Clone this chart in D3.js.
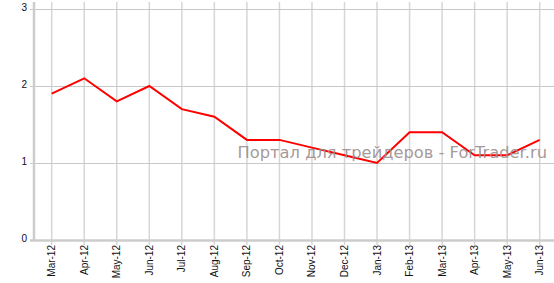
<!DOCTYPE html>
<html>
<head>
<meta charset="utf-8">
<script src="https://cdn.jsdelivr.net/npm/d3@7"></script>
<style>
  body { margin: 0; background: #fff; }
  svg { display: block; }
</style>
</head>
<body>
<script>
var width = 554,
    height = 283;

var months = ['Mar-12', 'Apr-12', 'May-12', 'Jun-12', 'Jul-12', 'Aug-12', 'Sep-12', 'Oct-12',
              'Nov-12', 'Dec-12', 'Jan-13', 'Feb-13', 'Mar-13', 'Apr-13', 'May-13', 'Jun-13'];

var values = [1.9, 2.1, 1.8, 2.0, 1.7, 1.6, 1.3, 1.3, 1.2, 1.1, 1.0, 1.4, 1.4, 1.1, 1.1, 1.3];

var yTicks = [0, 1, 2, 3];

var watermark = 'Портал для трейдеров - ForTrader.ru';

var svg = d3.select('body')
  .append('svg')
  .attr('width', width)
  .attr('height', height);

var x = d3.scalePoint()
  .domain(months)
  .range([51.7, 539.7]);

var y = d3.scaleLinear()
  .domain([0, 3])
  .range([240, 9]);

// vertical grid
svg.append('g')
  .selectAll('line')
  .data(months)
  .enter()
  .append('line')
  .attr('x1', function(d) { return x(d); })
  .attr('x2', function(d) { return x(d); })
  .attr('y1', 2)
  .attr('y2', 245)
  .attr('stroke', '#d6d6d6')
  .attr('stroke-width', 1.5);

// horizontal grid
svg.append('g')
  .selectAll('line')
  .data(yTicks.slice(1))
  .enter()
  .append('line')
  .attr('x1', 30)
  .attr('x2', width)
  .attr('y1', function(d) { return Math.round(y(d)) + 0.5; })
  .attr('y2', function(d) { return Math.round(y(d)) + 0.5; })
  .attr('stroke', '#c8c8c8');

// axes lines
svg.append('line')
  .attr('x1', 34).attr('x2', 34)
  .attr('y1', 2).attr('y2', 241)
  .attr('stroke', '#cccccc')
  .attr('stroke-width', 2.5);

svg.append('line')
  .attr('x1', 30).attr('x2', width)
  .attr('y1', 240.5).attr('y2', 240.5)
  .attr('stroke', '#cccccc')
  .attr('stroke-width', 2.5);

// y labels
svg.append('g')
  .selectAll('text')
  .data(yTicks)
  .enter()
  .append('text')
  .attr('x', 27)
  .attr('y', function(d) { return y(d) + 1.5; })
  .attr('text-anchor', 'end')
  .style('font-family', 'Liberation Sans, Arial, sans-serif')
  .style('font-size', '10px')
  .style('fill', '#0a0a2a')
  .text(function(d) { return d; });

// x labels
svg.append('g')
  .selectAll('text')
  .data(months)
  .enter()
  .append('text')
  .attr('transform', function(d) { return 'translate(' + (x(d) + 3.5) + ',245) rotate(-90)'; })
  .attr('text-anchor', 'end')
  .style('font-family', 'Liberation Sans, Arial, sans-serif')
  .style('font-size', '10px')
  .style('fill', '#111')
  .text(function(d) { return d; });

// data line
var line = d3.line()
  .x(function(d, i) { return x(months[i]); })
  .y(function(d) { return y(d); });

svg.append('path')
  .datum(values)
  .attr('d', line)
  .attr('fill', 'none')
  .attr('stroke', '#ff0000')
  .attr('stroke-width', 2);

// watermark
svg.append('text')
  .attr('x', 547)
  .attr('y', 158)
  .attr('text-anchor', 'end')
  .style('font-family', 'DejaVu Sans, Verdana, sans-serif')
  .style('font-size', '16.3px')
  .style('fill', '#9a8c8c')
  .style('fill-opacity', 0.9)
  .text(watermark);
</script>
</body>
</html>
